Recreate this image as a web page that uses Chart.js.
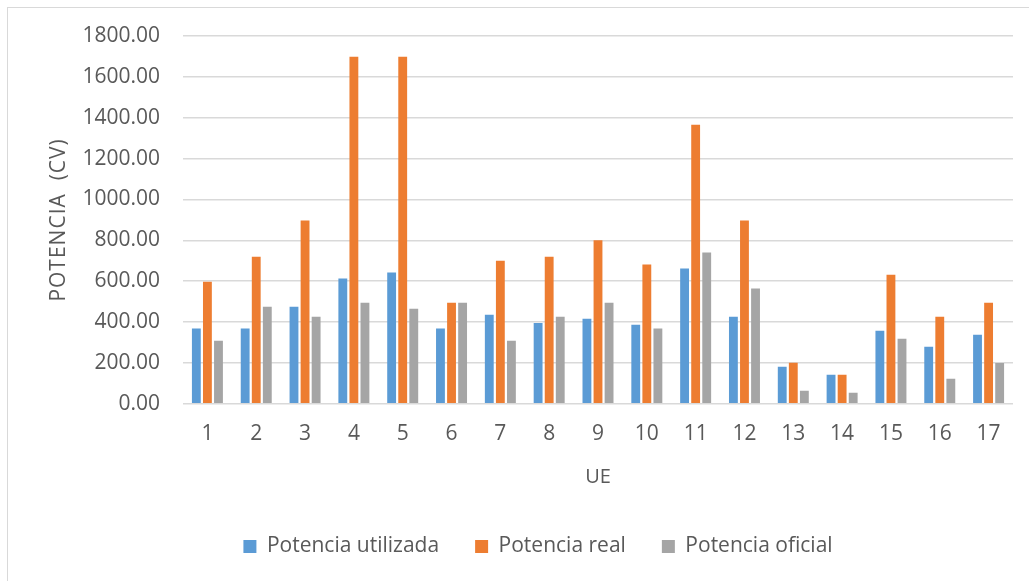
<!DOCTYPE html>
<html>
<head>
<meta charset="utf-8">
<script src="https://cdn.jsdelivr.net/npm/chart.js@4"></script>
<style>
  html, body { margin: 0; padding: 0; background: #fff; }
  #wrap { position: relative; width: 1029px; height: 581px; overflow: hidden; }
  #frame { position: absolute; left: 7px; top: 7px; width: 1100px; height: 700px;
           border-left: 1px solid #d9d9d9; border-top: 1px solid #d9d9d9; }
  canvas { position: absolute; left: 0; top: 0; }
</style>
</head>
<body>
<div id="wrap">
  <div id="frame"></div>
  <canvas id="myChart" width="1029" height="581"></canvas>
</div>
<script>
const categories = ['1','2','3','4','5','6','7','8','9','10','11','12','13','14','15','16','17'];
const potenciaUtilizada = [368, 368, 475, 613, 642, 368, 436, 396, 416, 387, 662, 426, 181, 142, 358, 279, 338];
const potenciaReal      = [597, 720, 897, 1698, 1698, 495, 700, 720, 800, 682, 1366, 897, 201, 142, 632, 426, 495];
const potenciaOficial   = [308, 475, 426, 495, 465, 495, 308, 426, 495, 368, 740, 564, 64, 54, 318, 122, 200];

const textColor = '#595959';
const fontFamily = '"Open Sans", sans-serif';

// legend: keep labels padding for spacing but trim the box height,
// and space out the letters of the y axis title
const layoutFix = {
  id: 'layoutFix',
  beforeLayout(chart) {
    const lg = chart.legend;
    if (lg && !lg._fixed) {
      const fit = lg.fit;
      lg.fit = function() { fit.call(this); this.height = 81; };
      lg._fixed = true;
    }
  },
  afterLayout(chart) {
    chart.legend.left += 63; // centred legend moves by half of this
  },
  beforeDraw(chart) {
    const s = chart.scales.y;
    if (!s._spaced) {
      const dt = s.drawTitle;
      s.drawTitle = function() {
        this.ctx.save();
        this.ctx.letterSpacing = '1px';
        dt.call(this);
        this.ctx.restore();
      };
      s._spaced = true;
    }
  }
};

window.onload = function() {
  const ctx = document.getElementById('myChart');

  new Chart(ctx, {
    type: 'bar',
    data: {
      labels: categories,
      datasets: [
        { label: 'Potencia utilizada', data: potenciaUtilizada, backgroundColor: '#5b9bd5' },
        { label: 'Potencia real', data: potenciaReal, backgroundColor: '#ed7d31' },
        { label: 'Potencia oficial', data: potenciaOficial, backgroundColor: '#a5a5a5' }
      ]
    },
    options: {
      responsive: false,
      animation: false,
      datasets: { bar: { categoryPercentage: 0.68, barPercentage: 0.8 } },
      layout: { padding: { top: 36, right: 16, left: 0, bottom: 0 } },
      plugins: {
        tooltip: { enabled: false },
        legend: {
          position: 'bottom',
          labels: {
            boxWidth: 13, boxHeight: 13, padding: 36,
            color: textColor, font: { family: fontFamily, size: 21 }
          }
        }
      },
      scales: {
        x: {
          grid: { display: false, drawTicks: false },
          border: { display: false },
          ticks: { color: textColor, padding: 18, font: { family: fontFamily, size: 21 } },
          title: {
            display: true, text: 'UE', color: textColor,
            font: { family: fontFamily, size: 20 }, padding: { top: 0, bottom: 11 }
          }
        },
        y: {
          min: 0, max: 1800,
          afterFit(scale) { scale.width = 183; },
          grid: { color: '#d9d9d9', lineWidth: 1.5, drawTicks: false },
          border: { display: false },
          ticks: {
            stepSize: 200, padding: 23, color: textColor,
            font: { family: fontFamily, size: 21 },
            callback: v => v.toFixed(2)
          },
          title: {
            display: true, text: 'POTENCIA  (CV)', color: textColor,
            font: { family: fontFamily, size: 21 }, padding: { top: 46, bottom: 0 }
          }
        }
      }
    },
    plugins: [layoutFix]
  });
};
</script>
</body>
</html>
